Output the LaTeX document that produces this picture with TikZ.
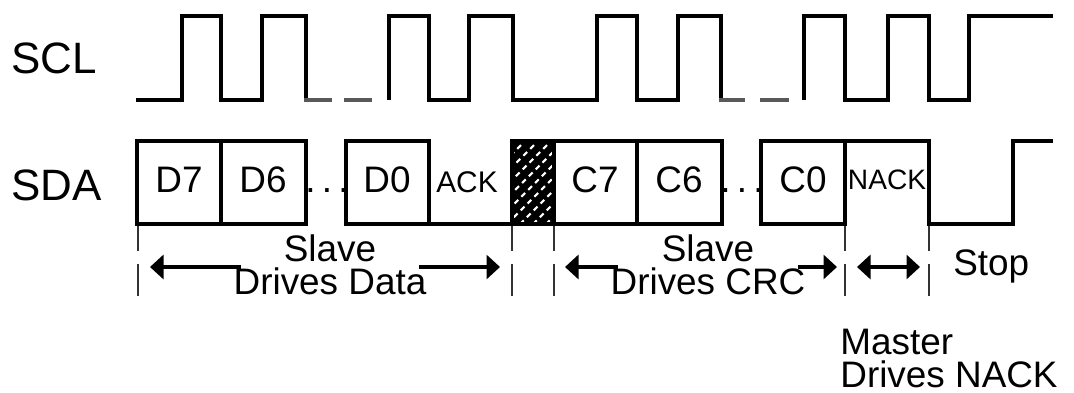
\documentclass[tikz,border=0pt]{standalone}
\usepackage{fontspec}
\setmainfont{Liberation Sans}
\usepackage{tikz}
\usetikzlibrary{arrows.meta, positioning, calc}

\begin{document}
\begin{tikzpicture}[x=0.02cm, y=-0.02cm,
  wave/.style={line width=1.8pt},
  gapline/.style={line width=2.4pt, black!65},
  tick/.style={line width=1.5pt, black!80},
  dim/.style={line width=1.8pt, {Triangle[length=0.27cm, width=0.48cm]}-{Triangle[length=0.27cm, width=0.48cm]}},
  sig/.style={font=\fontsize{25pt}{25pt}\selectfont, anchor=base west, inner sep=0pt},
  bit/.style={font=\fontsize{21pt}{21pt}\selectfont, anchor=base, inner sep=0pt},
  note/.style={font=\fontsize{21pt}{18.5pt}\selectfont, align=center, inner sep=0pt}]
\useasboundingbox (0,0) rectangle (1074,392);
\node[sig] (scl) at (11,73) {SCL};
\node[sig] (sda) at (11,200) {SDA};
\draw[wave] (136,100) -- (182,100) -- (182,16) -- (221,16) -- (221,100) -- (262,100) -- (262,16) -- (306,16) -- (306,100);
\draw[gapline] (304,100) -- (332,100);
\draw[gapline] (344,100) -- (372,100);
\draw[wave] (389,100) -- (389,16) -- (429,16) -- (429,100) -- (469,100) -- (469,16) -- (513,16) -- (513,100) -- (597,100) -- (597,16) -- (637,16) -- (637,100) -- (678,100) -- (678,16) -- (721,16) -- (721,100);
\draw[gapline] (719,100) -- (745,100);
\draw[gapline] (760,100) -- (789,100);
\draw[wave] (804,100) -- (804,16) -- (845,16) -- (845,100) -- (888,100) -- (888,16) -- (929,16) -- (929,100) -- (969,100) -- (969,16) -- (1053,16);
\begin{scope}
\clip (512,141) rectangle (554,224);
\fill (512,141) rectangle (554,224);
\foreach \k in {0,...,10}
  \draw[white, line width=1.2pt, dash pattern=on 3pt off 2.5pt] (429+13*\k,224) -- ++(83,-83);
\end{scope}
\draw[wave] (137,141) rectangle (221,224);
\draw[wave] (221,141) rectangle (306,224);
\draw[wave] (346,141) rectangle (429,224);
\draw[wave] (429,224) -- (512,224);
\draw[wave] (512,141) rectangle (554,224);
\draw[wave] (554,141) rectangle (637,224);
\draw[wave] (637,141) rectangle (722,224);
\draw[wave] (761,141) rectangle (845,224);
\draw[wave] (845,141) -- (929,141) -- (929,224) -- (1013,224) -- (1013,141) -- (1053,141);
\node[bit] (d7) at (179,192) {D7};
\node[bit] (d6) at (263,192) {D6};
\node[bit] (dotsd) at (327,192) {.\,.\,.};
\node[bit] (d0) at (387,192) {D0};
\node[bit, font=\fontsize{17pt}{17pt}\selectfont] (ack) at (467,192) {ACK};
\node[bit] (c7) at (595,192) {C7};
\node[bit] (c6) at (679,192) {C6};
\node[bit] (dotsc) at (742,192) {.\,.\,.};
\node[bit] (c0) at (803,192) {C0};
\node[bit, font=\fontsize{16pt}{16pt}\selectfont] (nack) at (887,189) {NACK};
\foreach \t in {138,512,554,845,929} {
  \draw[tick] (\t,226) -- (\t,251);
  \draw[tick] (\t,264) -- (\t,296);
}
\coordinate (datal) at (150,267);
\coordinate (datar) at (500,267);
\coordinate (crcl) at (565,267);
\coordinate (crcr) at (837,267);
\coordinate (nackl) at (857,267);
\coordinate (nackr) at (920,267);
\draw[dim] (datal) -- (datar);
\draw[dim] (crcl) -- (crcr);
\draw[dim] (nackl) -- (nackr);
\node[note, fill=white, inner xsep=-4pt, anchor=south] (data) at (330,295) {Slave\\Drives Data};
\node[note, fill=white, inner xsep=-4pt, anchor=south] (crc) at (708,295) {Slave\\Drives CRC};
\node[bit, anchor=base west] (stop) at (953,275) {Stop};
\node[note, align=left, anchor=south west] (nackdrv) at (840,388) {Master\\Drives NACK};
\end{tikzpicture}
\end{document}
